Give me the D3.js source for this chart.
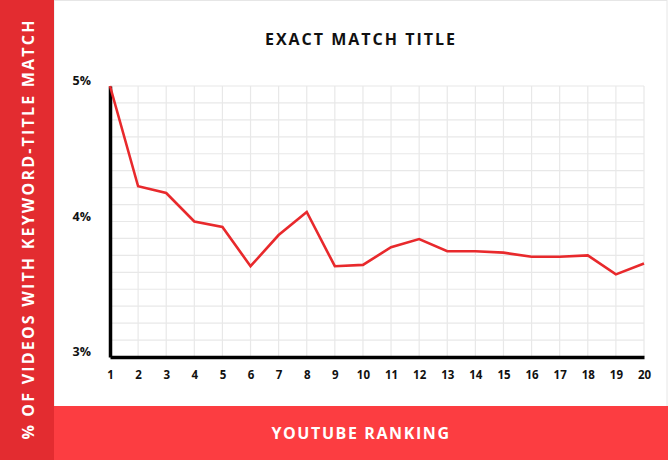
<!DOCTYPE html>
<html lang="en">
<head>
  <meta charset="UTF-8">
  <title>Exact Match Title</title>
  <script src="https://d3js.org/d3.v7.min.js"></script>
  <style>
    body { margin: 0; background: #fff; }
    text { font-family: "Open Sans", Lato, sans-serif; font-weight: 700; }
  </style>
</head>
<body>
  <div id="chart"></div>

  <script>
    // Data
    const rankings = d3.range(1, 21);
    const shares = [5.0, 4.26, 4.21, 4.0, 3.96, 3.67, 3.9, 4.07, 3.67, 3.68,
                    3.81, 3.87, 3.78, 3.78, 3.77, 3.74, 3.74, 3.75, 3.61, 3.69];
    const yTicks = [3, 4, 5];

    const width = 668;
    const height = 460;

    const svg = d3.select("#chart")
      .append("svg")
      .attr("width", width)
      .attr("height", height);

    // panel + side bands
    svg.append("rect")
      .attr("x", 54).attr("y", 0.5)
      .attr("width", width - 55).attr("height", 406)
      .attr("fill", "#fff").attr("stroke", "#e6e6e6");

    svg.append("rect")
      .attr("x", 54).attr("y", 406)
      .attr("width", width - 54).attr("height", height - 406)
      .attr("fill", "#fc3d41");

    svg.append("rect")
      .attr("x", 0).attr("y", 0)
      .attr("width", 54).attr("height", height)
      .attr("fill", "#e32c30");

    // scales
    const x = d3.scaleLinear().domain([1, 20]).range([110, 644]);
    const y = d3.scaleLinear().domain([3, 5]).range([357, 86]);

    // grid
    svg.append("g")
      .selectAll("line")
      .data(d3.range(3.125, 5.001, 0.125))
      .enter().append("line")
      .attr("x1", x(1)).attr("x2", x(20))
      .attr("y1", d => y(d)).attr("y2", d => y(d))
      .attr("stroke", "#e8e8e8").attr("stroke-width", 1.2);

    svg.append("g")
      .selectAll("line")
      .data(rankings.slice(1))
      .enter().append("line")
      .attr("x1", d => x(d)).attr("x2", d => x(d))
      .attr("y1", y(5)).attr("y2", y(3))
      .attr("stroke", "#e8e8e8").attr("stroke-width", 1.2);

    // x axis
    const xAxis = svg.append("g")
      .attr("transform", `translate(0,${y(3)})`)
      .call(d3.axisBottom(x).tickValues(rankings).tickSize(0).tickPadding(14).tickFormat(d3.format("d")));
    xAxis.select(".domain").attr("stroke", "#000").attr("stroke-width", 3.5);
    xAxis.selectAll("text").attr("font-size", 11.5).attr("fill", "#111")
      .style("font-family", "'Open Sans', sans-serif").style("font-weight", 700);

    // y axis
    const yAxis = svg.append("g")
      .attr("transform", `translate(${x(1)},0)`)
      .call(d3.axisLeft(y).tickValues(yTicks).tickSize(0).tickPadding(19).tickFormat(d => d + "%"));
    yAxis.select(".domain").attr("stroke", "#000").attr("stroke-width", 3.5);
    yAxis.selectAll("text").attr("font-size", 12.5).attr("fill", "#111")
      .attr("dy", "-0.1em")
      .style("font-family", "'Open Sans', sans-serif").style("font-weight", 700);

    // the line
    const line = d3.line()
      .x((d, i) => x(rankings[i]))
      .y(d => y(d));

    svg.append("path")
      .datum(shares)
      .attr("d", line)
      .attr("fill", "none")
      .attr("stroke", "#e8292c")
      .attr("stroke-width", 2.6)
      .attr("stroke-linejoin", "miter");

    // titles
    svg.append("text")
      .attr("x", 361).attr("y", 45)
      .attr("text-anchor", "middle")
      .attr("font-size", 16)
      .attr("letter-spacing", 2)
      .attr("fill", "#111")
      .text("EXACT MATCH TITLE");

    svg.append("text")
      .attr("x", 361).attr("y", 439)
      .attr("text-anchor", "middle")
      .attr("font-size", 16)
      .attr("letter-spacing", 1.6)
      .attr("fill", "#fff")
      .text("YOUTUBE RANKING");

    svg.append("text")
      .attr("transform", "translate(34,229) rotate(-90)")
      .attr("text-anchor", "middle")
      .attr("font-size", 16)
      .attr("letter-spacing", 2.2)
      .attr("fill", "#fff")
      .text("% OF VIDEOS WITH KEYWORD-TITLE MATCH");
  </script>
</body>
</html>
